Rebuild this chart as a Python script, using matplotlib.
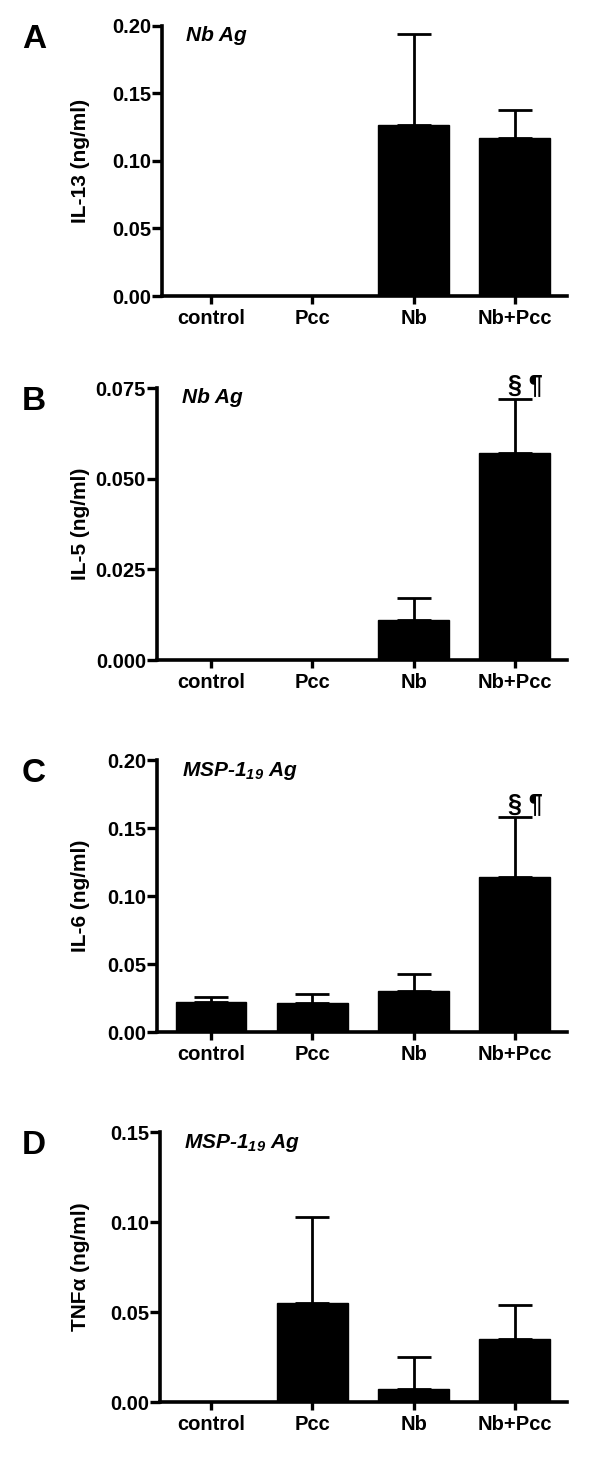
import numpy as np
import matplotlib
matplotlib.use("Agg")
import matplotlib.pyplot as plt

plt.rcParams['font.family'] = ['Liberation Sans', 'DejaVu Sans']
plt.rcParams['mathtext.fontset'] = 'custom'
plt.rcParams['mathtext.rm'] = 'Liberation Sans:italic:bold'
plt.rcParams['mathtext.it'] = 'Liberation Sans:italic:bold'

# --- data (means and upper error ends) ---
groups = ['control', 'Pcc', 'Nb', 'Nb+Pcc']

il13_mean = [0.0, 0.0, 0.127, 0.117]
il13_top = [0.0, 0.0, 0.194, 0.138]

il5_mean = [0.0, 0.0, 0.011, 0.057]
il5_top = [0.0, 0.0, 0.017, 0.072]

il6_mean = [0.022, 0.021, 0.030, 0.114]
il6_top = [0.026, 0.028, 0.043, 0.158]

tnf_mean = [0.0, 0.055, 0.007, 0.035]
tnf_top = [0.0, 0.103, 0.025, 0.054]

panels = [
    ('A', 'Nb Ag', 'IL-13 (ng/ml)', il13_mean, il13_top, [0, 0.05, 0.10, 0.15, 0.20], '{:.2f}', None),
    ('B', 'Nb Ag', 'IL-5 (ng/ml)', il5_mean, il5_top, [0, 0.025, 0.050, 0.075], '{:.3f}', '§ ¶'),
    ('C', r'MSP-1$_{19}$ Ag', 'IL-6 (ng/ml)', il6_mean, il6_top, [0, 0.05, 0.10, 0.15, 0.20], '{:.2f}', '§ ¶'),
    ('D', r'MSP-1$_{19}$ Ag', 'TNFα (ng/ml)', tnf_mean, tnf_top, [0, 0.05, 0.10, 0.15], '{:.2f}', None),
]

# pixel layout of each panel: y-axis x position, top and bottom of plot area
W, H = 600, 1462
axis_x = [162, 157, 157, 160]
tops = [26, 388, 760, 1132]
bottoms = [296, 660, 1032, 1402]
right_px = 567
cat0_px, step_px = 211, 101.3
ylabel_px = 90  # right edge of the rotated y label

fig = plt.figure(figsize=(W / 100, H / 100), dpi=100)
x = np.arange(len(groups))

for i, (letter, title, ylabel, mean, top, yticks, fmt, sig) in enumerate(panels):
    left = axis_x[i]
    ax = fig.add_axes((left / W, 1 - bottoms[i] / H, (right_px - left) / W,
                       (bottoms[i] - tops[i]) / H))
    mean = np.array(mean)
    top = np.array(top)
    ax.bar(x, mean, width=0.7, color='black', edgecolor='black', zorder=2)

    # upper error bars only where there is one
    has_err = top > mean
    ax.errorbar(x[has_err], mean[has_err],
                yerr=[np.zeros(has_err.sum()), (top - mean)[has_err]],
                fmt='none', ecolor='black', elinewidth=2.0, capsize=12.5,
                capthick=2.0, zorder=1)

    ax.set_xlim((left - cat0_px) / step_px, (right_px - cat0_px) / step_px)
    ax.set_ylim(0, yticks[-1])
    ax.set_yticks(yticks)
    ax.set_yticklabels([fmt.format(t) for t in yticks], fontsize=14.5, fontweight='bold')
    ax.set_xticks(x)
    ax.set_xticklabels(groups, fontsize=14.5, fontweight='bold')
    ax.set_ylabel(ylabel, fontsize=15, fontweight='bold')
    ax.yaxis.set_label_coords((ylabel_px - left) / (right_px - left), 0.5)

    for side in ['top', 'right']:
        ax.spines[side].set_visible(False)
    for side in ['left', 'bottom']:
        ax.spines[side].set_linewidth(2.6)
    ax.tick_params(axis='y', width=2.4, length=7, direction='out', pad=1)
    ax.tick_params(axis='x', width=2.4, length=6, direction='out', pad=3)

    ax.text(0.06, 1.0, title, transform=ax.transAxes, ha='left', va='top',
            fontsize=15, fontweight='bold', fontstyle='italic')
    fig.text(22 / W, 1 - (tops[i] - 2) / H, letter, ha='left', va='top',
             fontsize=24, fontweight='bold')

    if sig:
        ax.annotate(sig, xy=(3.1, top[3]), xytext=(0, 1), textcoords='offset points',
                    ha='center', va='bottom', fontsize=18, fontweight='bold')

fig.savefig('out.png', dpi=100)
